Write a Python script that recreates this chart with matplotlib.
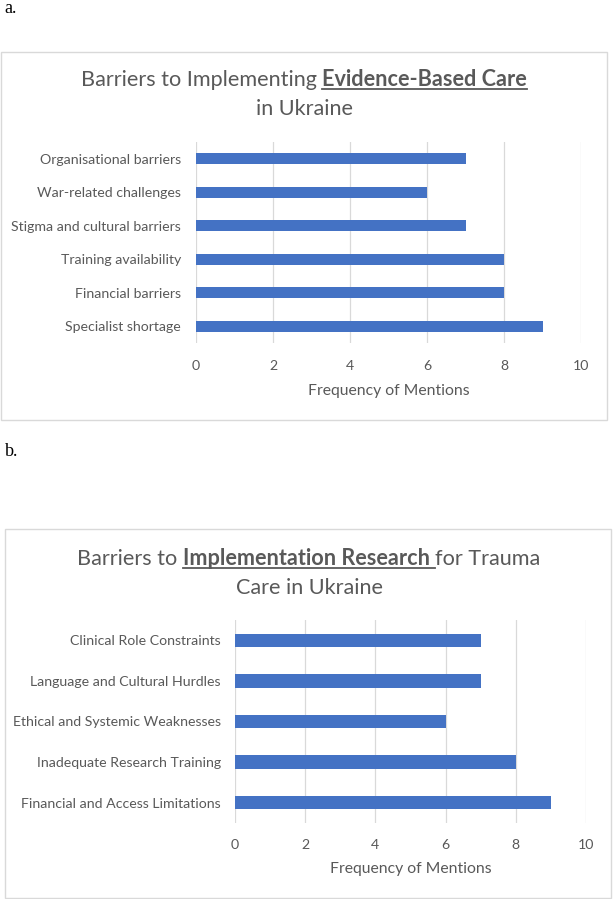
import matplotlib
matplotlib.use("Agg")
import matplotlib.pyplot as plt
from matplotlib.patches import Rectangle
from matplotlib.lines import Line2D

# ---------------- data ----------------
cats_a = ["Specialist shortage", "Financial barriers", "Training availability",
          "Stigma and cultural barriers", "War-related challenges", "Organisational barriers"]
vals_a = [9, 8, 8, 7, 6, 7]

cats_b = ["Financial and Access Limitations", "Inadequate Research Training",
          "Ethical and Systemic Weaknesses", "Language and Cultural Hurdles",
          "Clinical Role Constraints"]
vals_b = [9, 8, 6, 7, 7]

xticks = [0, 2, 4, 6, 8, 10]
xlabel = "Frequency of Mentions"

title_a = [[("Barriers to Implementing ", False), ("Evidence-Based Care", True)],
           [("in Ukraine", False)]]
title_b = [[("Barriers to ", False), ("Implementation Research ", True), ("for Trauma", False)],
           [("Care in Ukraine", False)]]

# ---------------- style ----------------
W, H, DPI = 613, 899, 100
FONT = "Lato"
GRAY = "#595959"
BAR = "#4472C4"
GRID = "#D9D9D9"

fig = plt.figure(figsize=(W / DPI, H / DPI), dpi=DPI)
fig.patch.set_facecolor("white")
renderer = fig.canvas.get_renderer()


def fx(x):
    return x / W


def fy(y):
    return 1 - y / H


def text_width(s, size, bold=False):
    wt = "bold" if bold else "normal"
    t1 = fig.text(0, 0, s + "|", fontsize=size, fontfamily=FONT, fontweight=wt)
    t2 = fig.text(0, 0, "|", fontsize=size, fontfamily=FONT, fontweight=wt)
    w = t1.get_window_extent(renderer).width - t2.get_window_extent(renderer).width
    t1.remove()
    t2.remove()
    return w


def fit(s, target):
    return 10 * target / text_width(s, 10)


def draw_title(lines, cx, baselines, size):
    for pieces, by in zip(lines, baselines):
        widths = [text_width(p, size, b) for p, b in pieces]
        x = cx - sum(widths) / 2
        for (p, b), w in zip(pieces, widths):
            fig.text(fx(x), fy(by), p, fontsize=size, fontfamily=FONT,
                     fontweight="bold" if b else "normal", color=GRAY,
                     ha="left", va="baseline")
            if b:
                fig.add_artist(Line2D([fx(x), fx(x + w)], [fy(by + 3), fy(by + 3)],
                                      color=GRAY, lw=1.3))
            x += w


def panel(box, axbox, cats, vals, lab_size, tick_pad, xt_pad, xlab_y):
    l, t, r, b = box
    fig.add_artist(Rectangle((fx(l), fy(b)), fx(r) - fx(l), fy(t) - fy(b),
                             transform=fig.transFigure, fill=False,
                             edgecolor=GRID, lw=1.0))
    al, at, ar, ab = axbox
    ax = fig.add_axes([fx(al), fy(ab), fx(ar) - fx(al), fy(at) - fy(ab)])
    ax.barh(range(len(cats)), vals, height=0.33, color=BAR, zorder=3)
    ax.set_xlim(0, 10)
    ax.set_ylim(-0.5, len(cats) - 0.5)
    ax.set_xticks(xticks)
    ax.set_xticklabels([str(v) for v in xticks])
    ax.set_yticks(range(len(cats)))
    ax.set_yticklabels(cats)
    for sp in ax.spines.values():
        sp.set_visible(False)
    ax.grid(axis="x", color=GRID, lw=0.9, zorder=0)
    ax.tick_params(axis="both", length=0, labelcolor=GRAY, labelsize=lab_size)
    ax.tick_params(axis="y", pad=tick_pad)
    ax.tick_params(axis="x", pad=xt_pad)
    for lab in ax.get_xticklabels() + ax.get_yticklabels():
        lab.set_fontfamily(FONT)
    ax.set_xlabel(xlabel, fontsize=lab_size * 1.12, color=GRAY, fontfamily=FONT, va="center")
    ax.xaxis.set_label_coords(0.5, (ab - xlab_y) / (ab - at))
    ax.set_facecolor("none")
    return ax


# label size fitted to reference width of "Organisational barriers"
lab_size = fit("Organisational barriers", 141)

# title size fitted to reference width of first title line
w10 = sum(text_width(p, 10, b) for p, b in title_a[0])
tsize = 10 * 447 / w10

# panel a
panel((1, 52, 607, 420), (196, 142, 581, 343), cats_a, vals_a, lab_size, 15 * 0.72, 17 * 0.72, 391)
draw_title(title_a, 304, [86, 115], tsize)

# panel b
panel((5, 529, 611, 898), (235, 620, 586, 823), cats_b, vals_b, lab_size, 14 * 0.72, 16 * 0.72, 869)
draw_title(title_b, 309, [565, 594], tsize)

# panel letters
fig.text(fx(4), fy(13), "a.", fontsize=13, fontfamily="Liberation Serif", color="black",
         ha="left", va="baseline")
fig.text(fx(5), fy(456), "b.", fontsize=13, fontfamily="Liberation Serif", color="black",
         ha="left", va="baseline")

fig.savefig("out.png", dpi=DPI)
